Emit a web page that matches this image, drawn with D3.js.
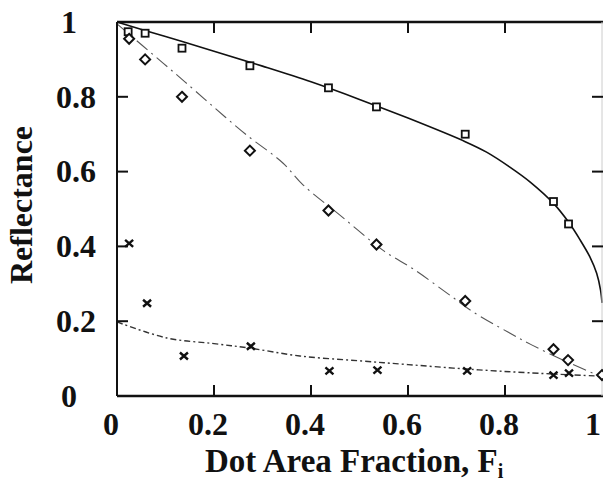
<!DOCTYPE html>
<html>
<head>
<meta charset="utf-8">
<script src="https://d3js.org/d3.v7.min.js"></script>
<style>
  body { margin: 0; background: #fff; }
</style>
</head>
<body>
<div id="chart"></div>
<script>
// measured points (dot area fraction vs reflectance)
const squareF = [0.023, 0.058, 0.134, 0.274, 0.436, 0.535, 0.718, 0.9, 0.931];
const squareR = [0.974, 0.97, 0.93, 0.883, 0.824, 0.773, 0.70, 0.52, 0.46];
const diamondF = [0.025, 0.058, 0.134, 0.274, 0.436, 0.535, 0.718, 0.90, 0.93, 1.0];
const diamondR = [0.955, 0.90, 0.80, 0.656, 0.496, 0.405, 0.254, 0.125, 0.096, 0.056];
const crossF = [0.025, 0.062, 0.138, 0.276, 0.438, 0.537, 0.722, 0.90, 0.932];
const crossR = [0.408, 0.248, 0.107, 0.133, 0.067, 0.069, 0.067, 0.056, 0.061];

// fitted curves
const solidF = [0, 0.1, 0.2, 0.3, 0.4, 0.5, 0.6, 0.718, 0.762, 0.81, 0.852, 0.9, 0.931, 0.955, 0.975, 0.989, 0.997, 1.0];
const solidR = [1.0, 0.961, 0.922, 0.882, 0.84, 0.793, 0.743, 0.68, 0.652, 0.612, 0.572, 0.515, 0.465, 0.417, 0.372, 0.328, 0.283, 0.249];
const dashDotF = [0, 0.095, 0.14, 0.223, 0.267, 0.342, 0.384, 0.464, 0.548, 0.614, 0.691, 0.734, 0.806, 0.856, 0.93, 1.0];
const dashDotR = [0.995, 0.89, 0.84, 0.746, 0.698, 0.623, 0.564, 0.479, 0.39, 0.337, 0.265, 0.225, 0.171, 0.136, 0.09, 0.051];
const dotF = [0, 0.103, 0.2, 0.274, 0.377, 0.5, 0.6, 0.722, 0.85, 1.0];
const dotR = [0.198, 0.155, 0.14, 0.128, 0.107, 0.094, 0.084, 0.072, 0.062, 0.053];

const xTicks = [0, 0.2, 0.4, 0.6, 0.8, 1];
const yTicks = [0, 0.2, 0.4, 0.6, 0.8, 1];
const xTickLabels = ["0", "0.2", "0.4", "0.6", "0.8", "1"];
const yTickLabels = ["0", "0.2", "0.4", "0.6", "0.8", "1"];

const width = 603, height = 484;
const serif = "'Liberation Serif', Tinos, 'Times New Roman', 'DejaVu Serif', serif";
const x = d3.scaleLinear().domain([0, 1]).range([117, 602]);
const y = d3.scaleLinear().domain([0, 1]).range([396, 22]);

const svg = d3.select("#chart").append("svg")
    .attr("width", width)
    .attr("height", height)
    .attr("font-family", serif)
    .attr("font-weight", "bold")
    .attr("fill", "#111");

const zip = (a, b) => a.map((v, i) => [v, b[i]]);
const line = d3.line().x(d => x(d[0])).y(d => y(d[1])).curve(d3.curveCatmullRom.alpha(0.5));

// fit lines
svg.append("path").datum(zip(solidF, solidR))
    .attr("d", line).attr("fill", "none")
    .attr("stroke", "#111").attr("stroke-width", 1.6);

svg.append("path").datum(zip(dashDotF, dashDotR))
    .attr("d", line).attr("fill", "none")
    .attr("stroke", "#555").attr("stroke-width", 1.1)
    .attr("stroke-dasharray", "14,5,2,5");

svg.append("path").datum(zip(dotF, dotR))
    .attr("d", line).attr("fill", "none")
    .attr("stroke", "#333").attr("stroke-width", 1.4)
    .attr("stroke-dasharray", "6,3,2,3");

// frame
const frame = svg.append("g").attr("stroke", "#111").attr("fill", "none");
frame.append("line").attr("x1", x(0)).attr("x2", x(1) + 1).attr("y1", y(1)).attr("y2", y(1)).attr("stroke-width", 2.6);
frame.append("line").attr("x1", x(0)).attr("x2", x(1) + 1).attr("y1", y(0)).attr("y2", y(0)).attr("stroke-width", 2.6);
frame.append("line").attr("x1", x(0)).attr("x2", x(0)).attr("y1", y(1)).attr("y2", y(0)).attr("stroke-width", 2);
frame.append("line").attr("x1", x(1)).attr("x2", x(1)).attr("y1", y(1)).attr("y2", y(0))
    .attr("stroke", "#ccc").attr("stroke-width", 1);

// ticks, pointing inward
const tickLen = 11;
svg.append("g").selectAll("line").data(xTicks.slice(1, -1)).enter().append("line")
    .attr("x1", d => x(d)).attr("x2", d => x(d))
    .attr("y1", y(0)).attr("y2", y(0) - tickLen)
    .attr("stroke", "#111").attr("stroke-width", 2);
svg.append("g").selectAll("line").data(xTicks.slice(1, -1)).enter().append("line")
    .attr("x1", d => x(d)).attr("x2", d => x(d))
    .attr("y1", y(1)).attr("y2", y(1) + tickLen)
    .attr("stroke", "#111").attr("stroke-width", 2);
svg.append("g").selectAll("line").data(yTicks.slice(1, -1)).enter().append("line")
    .attr("x1", x(0)).attr("x2", x(0) + tickLen)
    .attr("y1", d => y(d)).attr("y2", d => y(d))
    .attr("stroke", "#111").attr("stroke-width", 2);
svg.append("g").selectAll("line").data(yTicks.slice(1, -1)).enter().append("line")
    .attr("x1", x(1) + 1).attr("x2", x(1) + 1 - tickLen)
    .attr("y1", d => y(d)).attr("y2", d => y(d))
    .attr("stroke", "#111").attr("stroke-width", 2);

// tick labels
svg.append("g").selectAll("text").data(xTicks).enter().append("text")
    .attr("x", (d, i) => x(d) + (i === xTicks.length - 1 ? -9 : -6))
    .attr("y", 435)
    .attr("text-anchor", "middle")
    .attr("font-size", 32)
    .text((d, i) => xTickLabels[i]);

svg.append("g").selectAll("text").data(yTicks).enter().append("text")
    .attr("x", (d, i) => (yTickLabels[i].length > 1 ? 56 : 61))
    .attr("y", d => y(d))
    .attr("dy", "0.34em")
    .attr("text-anchor", "start")
    .attr("font-size", 32)
    .text((d, i) => yTickLabels[i]);

// axis titles
svg.append("text")
    .attr("transform", "translate(32,205) rotate(-90)")
    .attr("text-anchor", "middle")
    .attr("font-size", 32)
    .text("Reflectance");

const xt = svg.append("text")
    .attr("x", 205).attr("y", 472)
    .attr("font-size", 33);
xt.append("tspan").text("Dot Area Fraction, F");
xt.append("tspan").attr("font-size", 20).attr("dy", 6).text("i");

// markers
svg.append("g").selectAll("rect").data(zip(squareF, squareR)).enter().append("rect")
    .attr("x", d => x(d[0]) - 3.5).attr("y", d => y(d[1]) - 3.5)
    .attr("width", 7).attr("height", 7)
    .attr("fill", "#fff").attr("stroke", "#111").attr("stroke-width", 1.8);

svg.append("g").selectAll("path").data(zip(diamondF, diamondR)).enter().append("path")
    .attr("transform", d => `translate(${x(d[0])},${y(d[1])})`)
    .attr("d", "M0,-5L5,0L0,5L-5,0Z")
    .attr("fill", "#fff").attr("stroke", "#111").attr("stroke-width", 2);

svg.append("g").selectAll("path").data(zip(crossF, crossR)).enter().append("path")
    .attr("transform", d => `translate(${x(d[0])},${y(d[1])})`)
    .attr("d", "M-4,-3.5L4,3.5M-4,3.5L4,-3.5")
    .attr("fill", "none").attr("stroke", "#111").attr("stroke-width", 2.4);
</script>
</body>
</html>
